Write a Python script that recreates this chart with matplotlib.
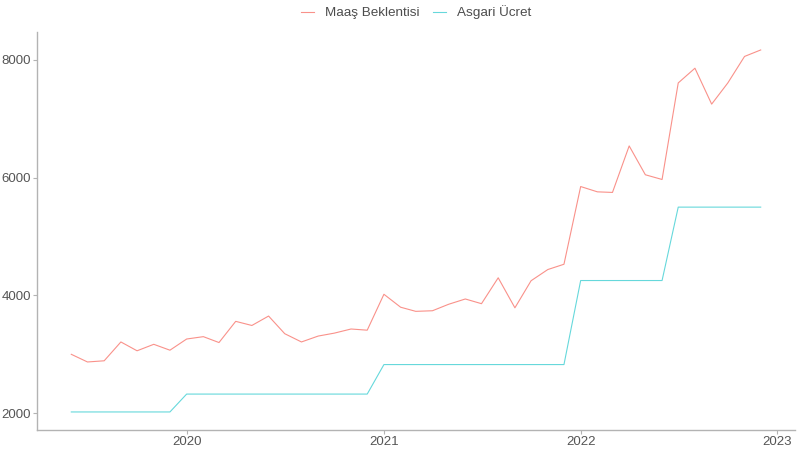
import matplotlib
matplotlib.use("Agg")
import matplotlib.pyplot as plt
import matplotlib.dates as mdates
import numpy as np
import pandas as pd

plt.rcParams['font.family'] = ['Liberation Sans', 'DejaVu Sans']

# monthly data, Jun 2019 - Dec 2022
months = pd.date_range("2019-06-01", "2022-12-01", freq="MS")

maas_beklentisi = [3000, 2870, 2890, 3210, 3060, 3170, 3070,
                   3260, 3300, 3200, 3560, 3490, 3650, 3350, 3210, 3310, 3360, 3430, 3410,
                   4020, 3800, 3730, 3740, 3850, 3940, 3860, 4300, 3790, 4250, 4440, 4530,
                   5850, 5760, 5750, 6540, 6050, 5970, 7610, 7860, 7250, 7610, 8060, 8170]

asgari_ucret = [2020.90] * 7 + [2324.70] * 12 + [2825.90] * 12 + [4253.40] * 6 + [5500.35] * 6

series_names = ["Maaş Beklentisi", "Asgari Ücret"]
colors = ["#F8766D", "#00BFC4"]

fig = plt.figure(figsize=(8, 4.5), dpi=100)
ax = fig.add_axes([0.046, 0.044, 0.948, 0.885])

ax.plot(months, maas_beklentisi, color=colors[0], lw=0.8, alpha=0.8, label=series_names[0])
ax.plot(months, asgari_ucret, color=colors[1], lw=0.8, alpha=0.6, label=series_names[1])

ax.set_ylim(1711, 8476)
ax.set_yticks([2000, 4000, 6000, 8000])
ax.set_xlim(pd.Timestamp("2019-03-29"), pd.Timestamp("2023-02-03"))
ax.xaxis.set_major_locator(mdates.YearLocator())
ax.xaxis.set_major_formatter(mdates.DateFormatter("%Y"))

for side in ["top", "right"]:
    ax.spines[side].set_visible(False)
for side in ["left", "bottom"]:
    ax.spines[side].set_color("#b3b3b3")
    ax.spines[side].set_linewidth(1.0)
ax.tick_params(colors="#b3b3b3", labelcolor="#555555", labelsize=9.5, length=3, width=0.8, pad=1)

leg = ax.legend(loc="upper center", bbox_to_anchor=(0.5, 1.09), ncol=2, frameon=False,
                fontsize=9.7, handlelength=1.0, columnspacing=1.0, handletextpad=0.8,
                borderpad=0.2)
for t in leg.get_texts():
    t.set_color("#4d4d4d")

fig.savefig("out.png", dpi=100)
